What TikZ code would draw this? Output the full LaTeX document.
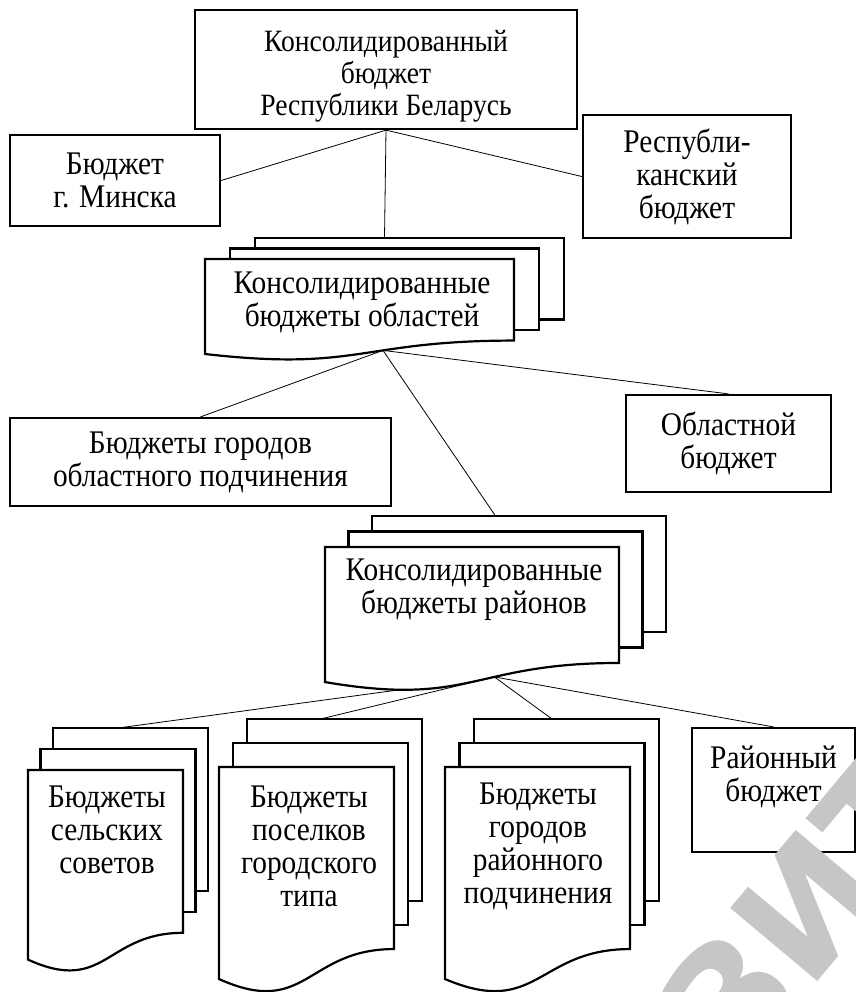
\documentclass[tikz,border=0pt]{standalone}
\usepackage{fontspec}
\setmainfont{Liberation Serif}[FakeStretch=0.89]
\newfontfamily\wmfont{DejaVu Sans}
\usetikzlibrary{backgrounds}

% three pages in a stack: name, left x, top y, width, height, dx, dy of the front page
\newcommand{\pagestack}[7]{%
  \draw[page] (#2+2*#6,#3-2*#7) rectangle (#2+2*#6+#4,#3+0.802*#5-2*#7);
  \draw[page] (#2+#6,#3-#7) rectangle (#2+#6+#4,#3+0.802*#5-#7);
  \draw[page] (#2,#3) -- (#2+#4,#3) -- (#2+#4,#3+0.802*#5)
    .. controls (#2+0.5*#4,#3+0.802*#5) and (#2+0.5*#4,#3+1.1075*#5) .. (#2,#3+0.934*#5)
    coordinate[pos=0.4] (#1-bot) -- cycle;
  \coordinate (#1-top) at (#2+#6+0.5*#4,#3-2*#7);
}

\begin{document}
\begin{tikzpicture}[x=0.5pt,y=-0.5pt,line width=1.1pt,
  font=\fontsize{16.5}{16.5}\selectfont,
  box/.style={draw,fill=white,inner sep=2pt,align=center},
  page/.style={draw,fill=white},
  txt/.style={align=center,inner sep=0pt},
  wm/.style={text=gray!45,font=\wmfont\bfseries\fontsize{78}{78}\selectfont}]
  \useasboundingbox (0,0) rectangle (856,992);

  % republic level
  \node[box,minimum width=191pt,minimum height=59.5pt,font=\fontsize{15.5}{16}\selectfont] (konsol) at (386,69.5) {\rule{0pt}{17pt}Консолидированный\\бюджет\\Республики Беларусь};
  \node[box,minimum width=105pt,minimum height=45.5pt] (minsk) at (115,180.5) {Бюджет\\г. Минска};
  \node[box,minimum width=104pt,minimum height=61.5pt] (resp) at (687,176.5) {Республи-\\канский\\бюджет};

  % regions
  \pagestack{obl}{205}{259}{309}{101.7}{25}{10.5}
  \node[txt] (obl) at (362,302.5) {Консолидированные\\бюджеты областей};
  \node[box,minimum width=190.5pt,minimum height=44pt] (gorobl) at (200.5,462) {Бюджеты городов\\областного подчинения};
  \node[box,minimum width=102.5pt,minimum height=48.5pt] (oblbud) at (728.5,443.5) {Областной\\бюджет};

  % districts
  \pagestack{rai}{325}{547}{294}{144.6}{23.5}{15.5}
  \node[txt] (rai) at (474,590) {Консолидированные\\бюджеты районов};

  \pagestack{sel}{28}{770}{155}{203}{12.5}{21}
  \node[txt] (sel) at (107,830) {Бюджеты\\сельских\\советов};
  \pagestack{posel}{219}{767}{175}{227}{14}{24}
  \node[txt] (posel) at (309,846.5) {Бюджеты\\поселков\\городского\\типа};
  \pagestack{gorrai}{445}{767}{185}{227}{14.5}{24}
  \node[txt] (gorrai) at (538,846.5) {Бюджеты\\городов\\районного\\подчинения};
  \node[box,minimum width=81.5pt,minimum height=62pt] (raibud) at (773.5,790) {Районный\\бюджет\\~};

  % watermark
  \node[wm,rotate=50] (wmark) at (806,908) {ЗИТ};

  \begin{scope}[on background layer]
    \draw (konsol.south) -- (minsk.east);
    \draw (konsol.south) -- (resp.west);
    \draw (konsol.south) -- (obl-top);
    \foreach \t in {gorobl.north,oblbud.north,rai-top} \draw (obl-bot) -- (\t);
    \foreach \t in {sel-top,posel-top,gorrai-top,raibud.north} \draw (rai-bot) -- (\t);
  \end{scope}
\end{tikzpicture}
\end{document}
